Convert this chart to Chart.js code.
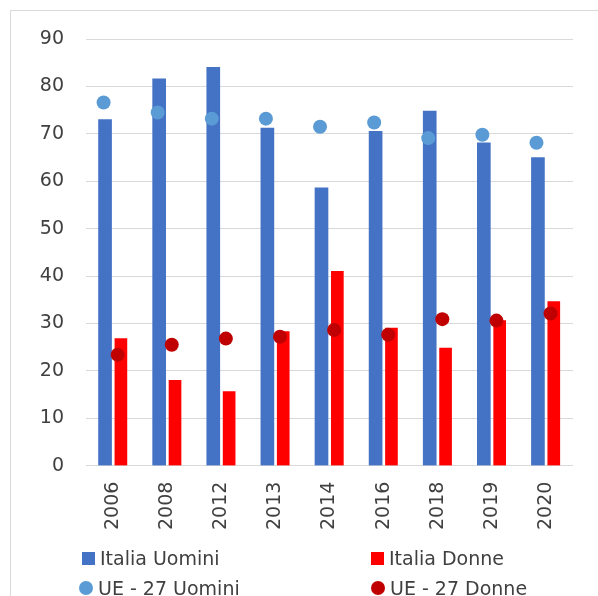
<!DOCTYPE html>
<html>
<head>
<meta charset="utf-8">
<script src="https://cdn.jsdelivr.net/npm/chart.js@4"></script>
<style>
  body { margin: 0; background: #fff; font-family: "DejaVu Sans", sans-serif; }
  #frame { position: absolute; left: 10px; top: 10px; width: 700px; height: 700px;
           border-left: 1px solid #d9d9d9; border-top: 1px solid #d9d9d9; }
  #chart { position: absolute; left: 0; top: 0; }
  .leg { position: absolute; font-size: 19px; color: #404040; line-height: 22px; white-space: nowrap; }
  .leg i { display: inline-block; vertical-align: middle; margin-right: 5px; margin-top: -3px; }
  .sq { width: 13px; height: 13px; }
  .dot { width: 14px; height: 14px; border-radius: 50%; }
</style>
</head>
<body>
<div id="frame"></div>
<canvas id="chart" width="598" height="559"></canvas>
<div id="legend"></div>
<script>
// categories and series
const years = ['2006', '2008', '2012', '2013', '2014', '2016', '2018', '2019', '2020'];
const italiaUomini = [73, 81.6, 84, 71.2, 58.6, 70.5, 74.8, 68.1, 65];
const italiaDonne = [26.8, 18, 15.6, 28.3, 41, 29, 24.8, 30.6, 34.6];
const ueUomini = [76.6, 74.5, 73.2, 73.2, 71.5, 72.4, 69.1, 69.8, 68.1];
const ueDonne = [23.4, 25.5, 26.8, 27.2, 28.6, 27.6, 30.9, 30.6, 32.1];
const yTicks = [0, 10, 20, 30, 40, 50, 60, 70, 80, 90];

const names = ['Italia Uomini', 'Italia Donne', 'UE - 27 Uomini', 'UE - 27 Donne'];
const colors = ['#4472C4', '#FF0000', '#5B9BD5', '#C00000'];

// everything sits on a hidden linear axis, shifted a little from the category centre
const toPoints = (vals, shift) => vals.map((v, i) => ({ x: i + shift, y: v }));

new Chart(document.getElementById('chart').getContext('2d'), {
  type: 'bar',
  data: {
    labels: years,
    datasets: [
      { type: 'bar', label: names[0], data: toPoints(italiaUomini, -0.148), backgroundColor: colors[0],
        order: 2, grouped: false, barThickness: 13, xAxisID: 'x2' },
      { type: 'bar', label: names[1], data: toPoints(italiaDonne, 0.145), backgroundColor: colors[1],
        order: 2, grouped: false, barThickness: 12, xAxisID: 'x2' },
      { type: 'scatter', label: names[2], data: toPoints(ueUomini, -0.175), backgroundColor: colors[2],
        borderWidth: 0, pointRadius: 7, order: 1, xAxisID: 'x2' },
      { type: 'scatter', label: names[3], data: toPoints(ueDonne, 0.085), backgroundColor: colors[3],
        borderWidth: 0, pointRadius: 7, order: 1, xAxisID: 'x2' }
    ]
  },
  options: {
    responsive: false,
    animation: false,
    layout: { padding: { left: 0, right: 25, top: 39, bottom: 13 } },
    plugins: { legend: { display: false }, tooltip: { enabled: false } },
    scales: {
      x: {
        type: 'category',
        labels: years,
        grid: { display: false, drawTicks: false },
        border: { display: false },
        ticks: { color: '#404040', font: { family: 'DejaVu Sans', size: 19 },
                 minRotation: 90, maxRotation: 90, padding: 16 }
      },
      x2: {
        type: 'linear', display: false, offset: false, min: -0.5, max: years.length - 0.5
      },
      y: {
        min: yTicks[0], max: yTicks[yTicks.length - 1],
        afterBuildTicks: s => { s.ticks = yTicks.map(v => ({ value: v })); },
        afterFit: s => { s.width = 86; },
        grid: { color: '#d9d9d9', drawTicks: false },
        border: { display: false },
        ticks: { color: '#404040', font: { family: 'DejaVu Sans', size: 19 }, padding: 22 }
      }
    }
  }
});

// legend, two columns
const legend = document.getElementById('legend');
const legPos = [[82, 558], [371, 558], [79, 588], [371, 588]];
names.forEach((n, i) => {
  const d = document.createElement('div');
  d.className = 'leg';
  d.style.left = legPos[i][0] + 'px';
  d.style.top = (legPos[i][1] - 11) + 'px';
  d.innerHTML = '<i class="' + (i < 2 ? 'sq' : 'dot') + '" style="background:' + colors[i] + '"></i>' + n;
  legend.appendChild(d);
});
</script>
</body>
</html>
